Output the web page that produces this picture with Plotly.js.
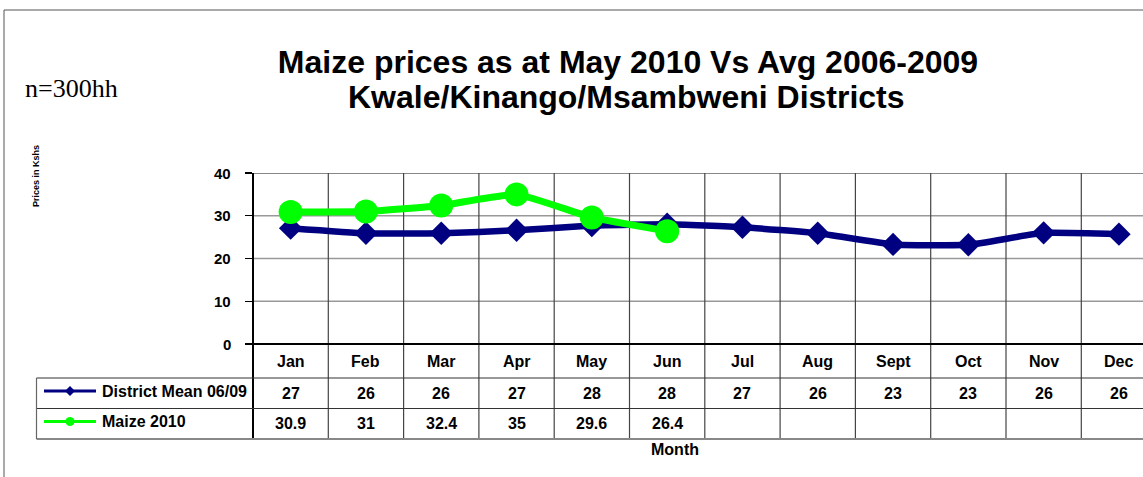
<!DOCTYPE html>
<html>
<head>
<meta charset="utf-8">
<script src="https://cdn.plot.ly/plotly-3.0.1.min.js"></script>
<style>html,body{margin:0;padding:0;background:#fff;}#chart{width:1143px;height:477px;}</style>
</head>
<body>
<div id="chart"></div>
<script>
// ---- data ----
var months = ["Jan","Feb","Mar","Apr","May","Jun","Jul","Aug","Sept","Oct","Nov","Dec"];
var districtMean = [27.1, 25.9, 25.9, 26.6, 27.7, 28.0, 27.3, 25.9, 23.3, 23.2, 26.0, 25.7];
var districtMeanTable = [27, 26, 26, 27, 28, 28, 27, 26, 23, 23, 26, 26];
var maize2010 = [30.9, 31, 32.4, 35, 29.6, 26.4];
var seriesNames = ["District Mean 06/09", "Maize 2010"];
var yTicks = [0, 10, 20, 30, 40];
var titleLines = ["Maize prices as at May 2010 Vs Avg 2006-2009", "Kwale/Kinango/Msambweni Districts"];

// ---- geometry helpers (pixel -> paper) ----
var L = 253, R = 0, T = 173, B = 133, W = 1143, H = 477;
var pw = W - L - R, ph = H - T - B;
function px(x){ return (x - L) / pw; }
function py(y){ return (H - B - y) / ph; }

var FONT = "Liberation Sans, Arial, sans-serif";
var navy = "#000080", green = "#00FF00";
var xIdx = months.map(function(_, i){ return i; });

var traces = [
  {x: xIdx, y: districtMean, type: "scatter", mode: "lines+markers", name: seriesNames[0],
   line: {color: navy, width: 6.5, shape: "spline", smoothing: 0.4},
   marker: {symbol: "diamond", size: 18, color: navy}, cliponaxis: false, showlegend: false},
  {x: xIdx.slice(0, maize2010.length), y: maize2010, type: "scatter", mode: "lines+markers", name: seriesNames[1],
   line: {color: green, width: 7, shape: "spline", smoothing: 0.4},
   marker: {symbol: "circle", size: 24, color: green}, cliponaxis: false, showlegend: false}
];

var shapes = [];
var annotations = [];

// outer frame
shapes.push({type: "rect", xref: "paper", yref: "paper", x0: px(4), x1: px(1170), y0: py(10), y1: py(500),
  line: {color: "#555", width: 1}, layer: "below"});

// horizontal gridlines
[10, 20, 30].forEach(function(v){
  shapes.push({type: "line", xref: "paper", yref: "y", x0: 0, x1: 1, y0: v, y1: v, line: {color: "#999", width: 1.5}, layer: "below"});
});
shapes.push({type: "line", xref: "paper", yref: "y", x0: 0, x1: 1, y0: 40, y1: 40, line: {color: "#888", width: 2}, layer: "below"});

// vertical lines (category boundaries) from top of plot through table
for (var i = 0; i < months.length; i++) {
  shapes.push({type: "line", xref: "x", yref: "paper", x0: i + 0.5, x1: i + 0.5, y0: py(439), y1: 1,
    line: {color: "#444", width: 1.2}, layer: "below"});
}
shapes.push({type: "line", xref: "paper", yref: "paper", x0: 0, x1: 0, y0: py(439), y1: 1, line: {color: "#000", width: 2}});
shapes.push({type: "line", xref: "paper", yref: "paper", x0: px(246), x1: 1, y0: 0, y1: 0, line: {color: "#000", width: 2}});

// table lines
var tblLeft = 36.5;
shapes.push({type: "line", xref: "paper", yref: "paper", x0: px(tblLeft), x1: 1, y0: py(378), y1: py(378), line: {color: "#333", width: 1.2}});
shapes.push({type: "line", xref: "paper", yref: "paper", x0: px(tblLeft), x1: 1, y0: py(408.5), y1: py(408.5), line: {color: "#333", width: 1.2}});
shapes.push({type: "line", xref: "paper", yref: "paper", x0: px(tblLeft), x1: 1, y0: py(439), y1: py(439), line: {color: "#888", width: 2}});
shapes.push({type: "line", xref: "paper", yref: "paper", x0: px(tblLeft), x1: px(tblLeft), y0: py(439), y1: py(378), line: {color: "#666", width: 1.2}});

// legend keys in table
var keyRows = [391, 421.5];
var kx0 = 44, kx1 = 96, kc = 70;
shapes.push({type: "line", xref: "paper", yref: "paper", x0: px(kx0), x1: px(kx1), y0: py(keyRows[0]), y1: py(keyRows[0]), line: {color: navy, width: 3}});
shapes.push({type: "path", xref: "paper", yref: "paper",
  path: "M " + px(kc - 5) + "," + py(keyRows[0]) + " L " + px(kc) + "," + py(keyRows[0] - 5) + " L " + px(kc + 5) + "," + py(keyRows[0]) + " L " + px(kc) + "," + py(keyRows[0] + 5) + " Z",
  fillcolor: navy, line: {color: navy, width: 0}});
shapes.push({type: "line", xref: "paper", yref: "paper", x0: px(kx0), x1: px(kx1), y0: py(keyRows[1]), y1: py(keyRows[1]), line: {color: green, width: 3}});
shapes.push({type: "circle", xref: "paper", yref: "paper", x0: px(kc - 4.5), x1: px(kc + 4.5), y0: py(keyRows[1] + 4.5), y1: py(keyRows[1] - 4.5),
  fillcolor: green, line: {color: green, width: 0}});

// y tick labels
yTicks.forEach(function(v){
  annotations.push({xref: "paper", yref: "y", x: px(233), y: v, xanchor: "right", yanchor: "middle", showarrow: false,
    text: String(v), font: {family: FONT, size: 15, color: "#000", weight: "bold"}});
});

// month header & table values
var TF = 16;
months.forEach(function(m, i){
  annotations.push({xref: "x", yref: "paper", x: i, y: py(361.5), xanchor: "center", yanchor: "middle", showarrow: false,
    text: m, font: {family: FONT, size: TF, color: "#000", weight: "bold"}});
  annotations.push({xref: "x", yref: "paper", x: i, y: py(393.5), xanchor: "center", yanchor: "middle", showarrow: false,
    text: String(districtMeanTable[i]), font: {family: FONT, size: TF, color: "#000", weight: "bold"}});
  if (i < maize2010.length) {
    annotations.push({xref: "x", yref: "paper", x: i, y: py(423.5), xanchor: "center", yanchor: "middle", showarrow: false,
      text: String(maize2010[i]), font: {family: FONT, size: TF, color: "#000", weight: "bold"}});
  }
});

// series names in table
seriesNames.forEach(function(n, k){
  annotations.push({xref: "paper", yref: "paper", x: px(100), y: py(keyRows[k]), xanchor: "left", yanchor: "middle", showarrow: false,
    text: n, font: {family: FONT, size: TF, color: "#000", weight: "bold"}});
});

// x axis title
annotations.push({xref: "paper", yref: "paper", x: px(675), y: py(449), xanchor: "center", yanchor: "middle", showarrow: false,
  text: "Month", font: {family: FONT, size: 16, color: "#000", weight: "bold"}});
// y axis title
annotations.push({xref: "paper", yref: "paper", x: px(36), y: py(176), xanchor: "center", yanchor: "middle", showarrow: false,
  textangle: -90, text: "Prices in Kshs", font: {family: FONT, size: 9, color: "#000", weight: "bold"}});
// n=300hh
annotations.push({xref: "paper", yref: "paper", x: px(23), y: py(88), xanchor: "left", yanchor: "middle", showarrow: false,
  text: "n=300hh", font: {family: "Liberation Serif, Times New Roman, serif", size: 26, color: "#000"}});
// title second line
annotations.push({xref: "paper", yref: "paper", x: px(626), y: py(97), xanchor: "center", yanchor: "middle", showarrow: false,
  text: titleLines[1], font: {family: FONT, size: 32, color: "#000", weight: "bold"}});

var layout = {
  width: W, height: H,
  margin: {l: L, r: R, t: T, b: B, pad: 0},
  paper_bgcolor: "#fff", plot_bgcolor: "#fff",
  title: {text: titleLines[0],
    xref: "paper", x: px(628), xanchor: "center", yref: "container", y: 1 - 62/477, yanchor: "middle",
    font: {family: FONT, size: 32, color: "#000", weight: "bold"}},
  xaxis: {range: [-0.5, (pw / 75.3) - 0.5], showgrid: false, zeroline: false, showticklabels: false, ticks: "",
    showline: false, fixedrange: true},
  yaxis: {range: [0, 40], tickvals: yTicks, showticklabels: false, ticks: "outside", ticklen: 7, tickwidth: 1.2, tickcolor: "#000",
    showgrid: false, zeroline: false, showline: false, fixedrange: true},
  showlegend: false,
  shapes: shapes,
  annotations: annotations
};

Plotly.newPlot("chart", traces, layout, {displayModeBar: false, staticPlot: true});
</script>
</body>
</html>
